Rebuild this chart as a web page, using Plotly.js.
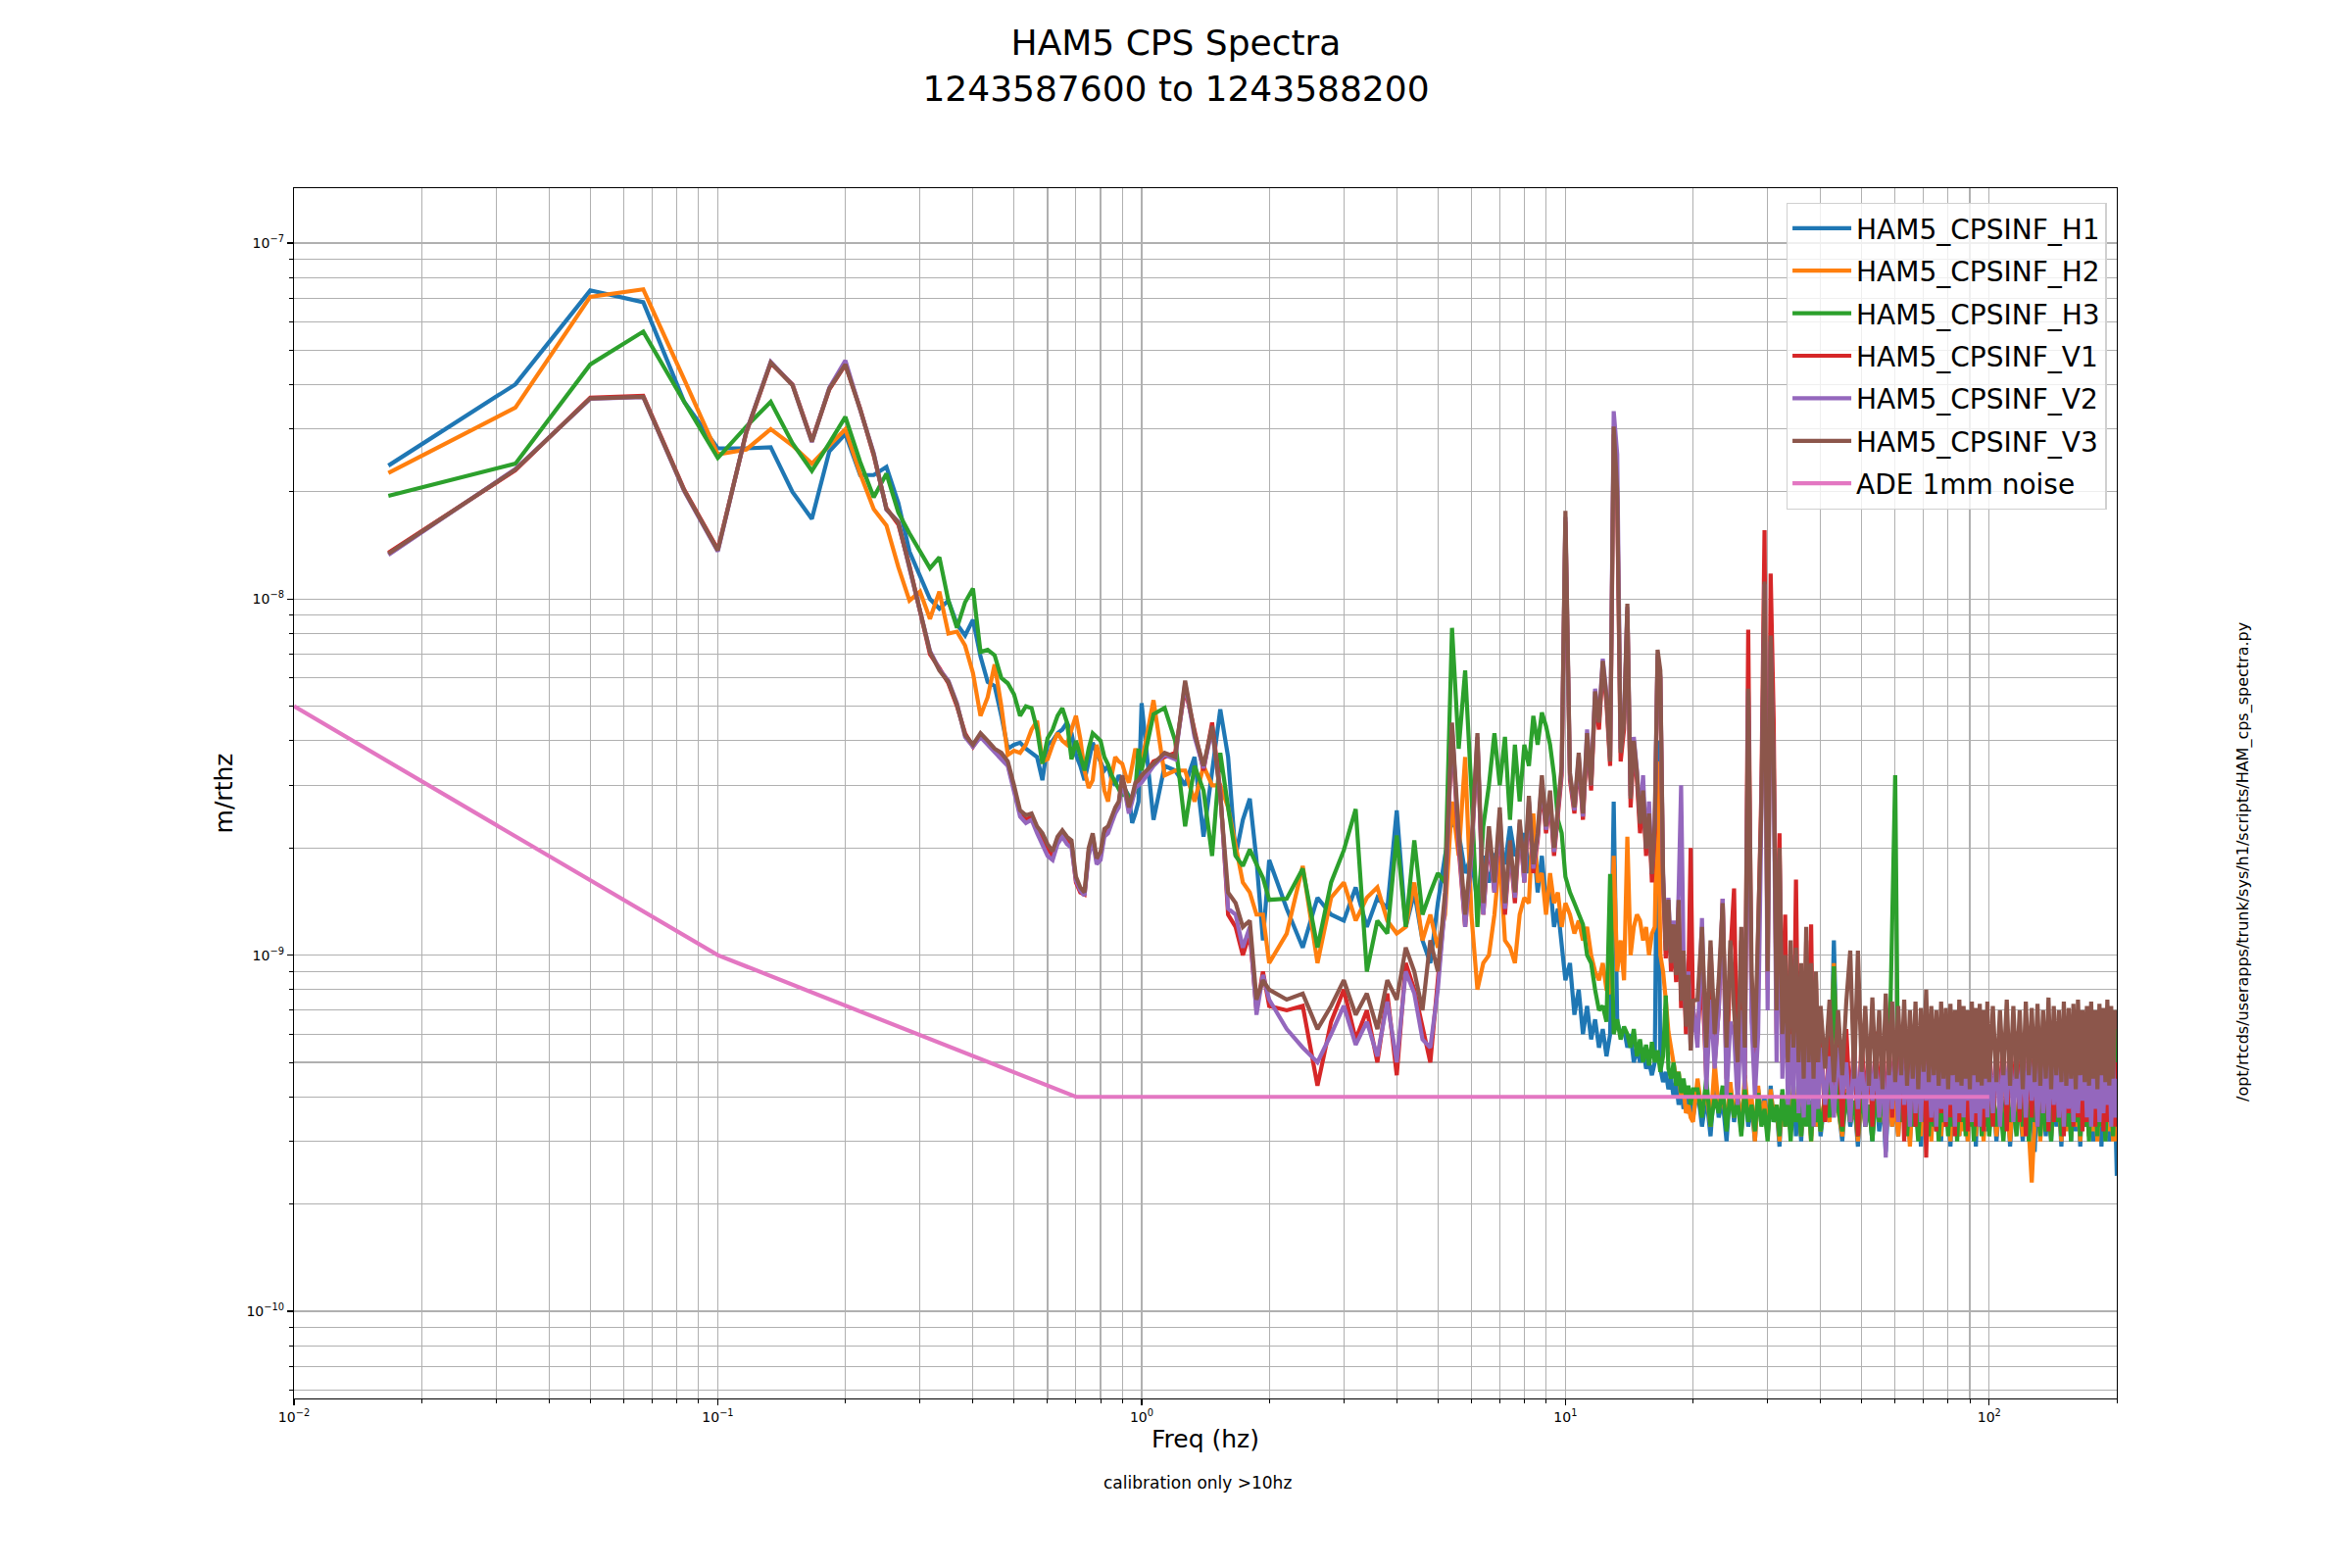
<!DOCTYPE html>
<html><head><meta charset="utf-8">
<script src="https://cdn.plot.ly/plotly-3.0.1.min.js"></script>
<style>html,body{margin:0;padding:0;background:#fff}</style>
</head><body><div id="chart" style="width:2400px;height:1600px"></div>
<script>
// Frequency grid (Hz)
const freq = [
0.0167,0.0333,0.05,0.0667,0.0833,0.1,0.1167,0.1333,0.15,0.1667,0.1833,0.2,0.2167,0.2333,0.25,0.2667,0.2833,0.3,0.3167,0.3333,0.35,0.3667,0.3833,0.4,
0.4167,0.4333,0.45,0.4667,0.4833,0.5,0.5167,0.5333,0.55,0.5667,0.5833,0.6,0.6167,0.6333,0.65,0.6667,0.6833,0.7,0.7167,0.7333,0.75,0.7667,0.7833,0.8,0.8167,0.8333,0.85,0.8667,0.8833,0.9,0.9167,0.9333,0.95,0.9667,0.9833,1.0,
1.0667,1.1333,1.2,1.2667,1.3333,1.4,1.4667,1.5333,1.6,1.6667,1.7333,1.8,1.8667,1.9333,2.0,
2.2,2.4,2.6,2.8,3,3.2,3.4,3.6,3.8,4,4.2,4.4,4.6,4.8,5,5.2,5.4,5.6,5.8,6,6.2,6.4,6.6,6.8,7,7.2,7.4,7.6,7.8,8,8.2,8.4,8.6,8.8,9,9.2,9.4,9.6,9.8,10,
10.25,10.5,10.75,11,11.25,11.5,11.75,12,12.25,12.5,12.75,13,13.25,13.5,13.75,14,14.25,14.5,14.75,15,15.25,15.5,15.75,16,16.25,16.5,16.75,17,17.25,17.5,17.75,18,18.25,18.5,18.75,19,19.25,19.5,19.75,20,
20.5,21,21.5,22,22.5,23,23.5,24,24.5,25,25.5,26,26.5,27,27.5,28,28.5,29,29.5,30,30.5,31,31.5,32,32.5,33,33.5,34,34.5,35,35.5,36,36.5,37,37.5,38,38.5,39,39.5,40,
41,42,43,44,45,46,47,48,49,50,51,52,53,54,55,56,57,58,59,60,61,62,63,64,65,66,67,68,69,70,71,72,73,74,75,76,77,78,79,80,81,82,83,84,85,86,87,88,89,90,91,92,93,94,95,96,97,98,99,100,
102,104,106,108,110,112,114,116,118,120,122,124,126,128,130,132,134,136,138,140,142,144,146,148,150,152,154,156,158,160,162,164,166,168,170,172,174,176,178,180,182,184,186,188,190,192,194,196,198,200
];

// Spectra values in nm/rtHz (converted to m/rtHz below)
const h1 = [
23.7,40.1,73.6,68.2,35.8,26.5,26.5,26.7,20.0,16.8,26.0,29.1,22.3,22.3,23.5,18.6,13.6,11.7,10.0,9.4,9.9,8.5,7.9,8.75,
6.9,5.85,5.7,4.7,3.8,3.9,3.95,3.8,3.7,3.6,3.1,3.9,4.0,4.2,4.3,4.5,4.2,3.65,3.4,3.1,3.5,3.95,3.7,3.5,3.3,3.4,3.1,3.0,3.2,3.1,2.9,2.8,2.35,2.5,2.7,5.1,
2.4,3.4,3.3,3.0,3.6,2.15,3.35,4.9,3.6,1.9,2.4,2.75,1.85,1.1,1.85,
1.35,1.05,1.45,1.3,1.25,1.55,1.2,1.45,1.35,2.55,1.2,1.5,1.1,0.95,1.4,1.9,2.4,2.2,1.7,1.9,1.4,1.9,1.6,1.9,2.0,1.8,2.3,1.9,2.0,2.2,1.7,2.1,1.5,1.9,1.4,1.6,1.2,1.35,1.05,0.85,
0.95,0.68,0.8,0.6,0.72,0.58,0.66,0.55,0.62,0.52,0.6,2.7,0.65,0.6,0.62,0.55,0.6,0.5,0.55,0.5,0.55,0.48,0.5,0.46,0.5,4.0,0.48,0.44,0.47,0.42,0.45,0.4,0.44,0.38,0.42,0.37,0.4,0.36,0.38,0.35,
0.42,0.33,0.4,0.31,0.45,0.35,0.39,0.3,0.43,0.34,0.41,0.32,0.44,0.33,0.38,0.3,0.42,0.35,0.4,0.31,0.43,0.34,0.37,0.29,0.41,0.33,0.4,0.32,0.44,0.31,0.38,0.3,0.42,0.35,0.39,0.31,0.43,0.33,0.4,0.31,
0.4,0.34,1.1,0.38,0.3,0.42,0.33,0.39,0.29,0.41,0.34,0.38,0.3,0.43,0.32,0.4,0.28,0.42,0.33,0.39,0.31,0.44,0.34,0.38,0.3,0.41,0.33,0.4,0.29,0.43,
0.35,0.39,0.31,0.42,0.32,0.4,0.3,0.44,0.33,0.38,0.29,0.41,0.34,0.4,0.31,0.43,0.33,0.39,0.3,0.42,0.34,0.4,0.29,0.41,0.33,0.38,0.31,0.43,0.32,0.4,
0.41,0.3,0.39,0.33,0.43,0.29,0.4,0.34,0.38,0.3,0.42,0.32,0.4,0.28,0.43,0.33,0.39,0.31,0.41,0.3,0.44,0.33,0.38,0.29,0.42,0.34,0.4,0.3,0.41,0.32,
0.39,0.29,0.43,0.33,0.4,0.31,0.42,0.3,0.38,0.32,0.41,0.29,0.4,0.33,0.43,0.3,0.39,0.31,0.4,0.24
];
const h2 = [
22.6,34.5,70.6,74.1,41.4,25.5,26.3,30.0,27.0,24.0,27.0,30.0,22.5,17.9,16.1,12.3,9.9,10.5,8.8,10.5,8.0,8.1,7.4,6.2,
4.7,5.3,6.55,5.0,3.65,3.75,3.7,3.9,4.3,4.55,3.5,3.55,3.9,4.2,4.0,3.9,4.3,4.7,4.05,3.3,2.95,3.1,3.9,3.5,2.9,2.7,3.2,3.6,3.5,3.45,3.2,3.05,3.4,3.8,3.6,3.45,
5.2,3.2,3.3,3.3,2.7,3.4,3.0,3.0,2.6,2.0,1.6,1.5,1.3,1.3,0.95,
1.15,1.78,0.95,1.45,1.6,1.25,1.45,1.55,1.25,1.15,1.2,1.6,1.1,1.3,1.05,1.3,2.7,1.9,3.6,1.3,0.8,0.95,1.0,1.3,1.9,1.1,1.05,0.95,1.3,1.45,1.4,2.5,1.6,1.7,1.3,1.7,1.4,1.5,1.2,1.4,
1.3,1.15,1.25,1.1,1.2,1.0,0.9,0.85,0.95,0.8,0.78,1.9,0.9,1.1,0.85,2.15,1.0,1.2,1.3,1.25,1.1,1.2,1.0,1.15,1.2,3.5,1.0,0.9,0.75,0.61,0.55,0.5,0.45,0.47,0.4,0.42,0.36,0.38,0.35,0.34,
0.45,0.36,0.42,0.33,0.5,0.37,0.4,0.34,0.44,0.35,0.41,0.32,0.46,0.36,0.4,0.3,0.43,0.34,0.39,0.31,0.42,0.35,0.38,0.3,0.41,0.33,0.39,0.32,0.43,0.34,0.4,0.31,0.42,0.35,0.38,0.3,0.41,0.33,0.4,0.32,
0.41,0.34,0.95,0.37,0.31,0.42,0.34,0.39,0.3,0.41,0.33,0.38,0.31,0.42,0.34,0.4,0.3,0.43,0.33,0.39,0.31,0.42,0.35,0.38,0.29,0.41,0.34,0.4,0.31,0.43,
0.33,0.39,0.3,0.42,0.34,0.4,0.31,0.41,0.33,0.38,0.3,0.42,0.34,0.4,0.31,0.43,0.32,0.39,0.3,0.41,0.34,0.4,0.31,0.42,0.33,0.38,0.3,0.41,0.34,0.4,
0.42,0.31,0.4,0.34,0.38,0.3,0.41,0.33,0.39,0.31,0.43,0.32,0.23,0.34,0.4,0.3,0.42,0.33,0.38,0.31,0.41,0.34,0.39,0.3,0.42,0.32,0.4,0.31,0.43,0.33,
0.38,0.3,0.41,0.34,0.4,0.31,0.42,0.32,0.39,0.3,0.41,0.33,0.4,0.31,0.42,0.32,0.39,0.3,0.41,0.3
];
const h3 = [
19.5,24.0,45.6,56.4,35.8,24.9,30.5,35.8,27.4,22.9,27.4,32.5,24.3,19.3,22.5,17.5,15.3,13.7,12.2,13.1,9.9,8.3,9.8,10.7,
7.1,7.2,6.95,6.0,5.8,5.4,4.7,5.0,4.94,4.3,3.45,4.07,4.3,4.7,4.94,4.5,3.55,4.0,3.6,3.3,3.8,4.2,4.1,4.0,3.6,3.43,3.2,3.05,2.9,2.8,2.9,2.75,2.75,2.9,3.8,3.3,
4.75,4.95,4.0,2.3,3.4,2.9,1.9,3.7,2.6,1.9,1.78,1.98,1.8,1.65,1.43,
1.44,1.75,1.05,1.6,1.97,2.57,0.9,1.25,1.15,2.17,1.2,2.1,1.3,1.5,1.7,1.6,8.3,3.8,6.3,2.9,1.2,2.3,3.0,4.2,3.0,4.1,2.4,3.9,2.7,3.9,3.4,4.7,3.9,4.8,4.4,3.9,3.2,2.4,2.2,1.66,
1.5,1.4,1.3,1.22,1.0,0.95,0.8,0.7,0.72,0.65,1.69,0.6,0.66,0.58,0.63,0.6,0.55,0.62,0.52,0.58,0.5,0.56,0.49,0.57,0.5,0.54,0.47,0.52,0.77,0.48,0.45,0.5,0.43,0.47,0.41,0.45,0.4,0.43,0.38,0.42,
0.42,0.35,0.45,0.33,0.4,0.36,0.43,0.32,0.41,0.35,0.39,0.31,0.42,0.34,0.38,0.32,0.41,0.33,0.37,0.3,0.4,0.34,0.38,0.31,0.42,0.33,0.39,0.3,0.41,0.34,0.38,0.31,0.4,0.33,0.39,0.3,0.41,0.34,0.38,0.32,
0.4,0.35,0.93,0.37,0.32,0.41,0.34,0.39,0.31,0.42,0.33,0.38,0.3,0.41,0.34,0.4,0.32,0.45,1.2,3.2,
0.4,0.34,0.39,0.31,0.42,0.33,0.38,0.3,0.41,0.34,0.39,0.31,0.42,0.33,0.4,0.3,0.41,0.34,0.38,0.31,
0.42,0.33,0.39,0.3,0.41,0.34,0.4,0.31,0.43,0.33,0.38,0.3,0.41,0.34,0.39,0.31,0.42,0.33,0.4,0.31,
0.41,0.33,0.39,0.3,0.42,0.34,0.38,0.31,0.41,0.33,0.4,0.3,0.42,0.34,0.39,0.31,0.41,0.32,0.38,0.3,0.42,0.34,0.4,0.31,0.41,0.33,0.39,0.3,0.42,0.34,
0.38,0.31,0.41,0.33,0.4,0.3,0.42,0.34,0.39,0.31,0.41,0.33,0.4,0.3,0.42,0.34,0.39,0.31,0.41,0.7
];
const v1 = [
13.5,23.0,36.8,37.2,20.3,13.8,29.3,46.0,40.1,27.9,38.8,45.5,34.3,25.3,18.0,16.2,12.4,9.1,7.0,6.4,5.8,5.0,4.2,3.85,
4.15,3.95,3.75,3.6,3.45,2.95,2.5,2.4,2.45,2.25,2.15,2.0,1.9,2.1,2.2,2.1,2.05,1.6,1.5,1.48,1.95,2.15,1.85,1.9,2.2,2.25,2.4,2.55,2.65,3.15,2.85,2.55,2.75,3.0,3.05,3.1,
3.5,3.6,3.7,5.6,4.3,3.3,4.5,2.9,1.3,1.2,1.0,1.15,0.7,0.9,0.72,
0.7,0.72,0.43,0.65,0.8,0.58,0.7,0.5,0.78,0.46,0.95,0.8,0.62,0.5,0.85,1.4,4.3,2.0,1.2,1.9,4.0,1.3,2.1,1.5,2.4,1.3,2.0,1.4,2.3,1.6,2.6,1.7,2.1,3.0,2.2,2.7,1.9,2.5,3.2,16.5,
3.1,2.5,3.5,2.4,4.0,2.9,5.3,4.3,6.5,5.1,3.4,29.0,19,3.5,4.3,9.3,2.6,3.8,3.1,2.2,2.8,1.9,2.4,1.6,2.2,6.9,6.0,1.6,0.98,1.36,0.9,1.15,0.84,1.36,0.71,0.98,0.6,0.84,2.0,0.7,
0.6,0.9,0.45,1.05,0.5,0.7,1.44,0.45,1.0,1.54,0.42,1.1,0.45,8.2,0.7,0.45,1.2,2.9,15.6,0.8,11.8,4.6,0.6,2.2,0.5,1.3,0.42,1.0,0.45,1.63,0.4,0.9,0.38,1.1,0.4,1.22,0.37,0.85,0.4,0.62,
0.34,0.6,0.36,0.58,0.33,0.62,0.37,0.57,0.31,0.6,0.35,0.58,0.33,0.61,0.36,0.56,0.32,0.6,0.35,0.58,0.34,0.61,0.3,0.57,0.36,0.6,0.33,0.58,0.35,0.62,
0.27,0.57,0.34,0.6,0.32,0.59,0.36,0.57,0.33,0.6,0.35,0.58,0.31,0.61,0.34,0.57,0.36,0.6,0.32,0.58,0.35,0.61,0.33,0.57,0.34,0.6,0.32,0.58,0.35,0.6,
0.33,0.58,0.35,0.6,0.32,0.57,0.36,0.61,0.34,0.58,0.31,0.6,0.35,0.57,0.33,0.61,0.36,0.58,0.32,0.6,0.34,0.57,0.35,0.61,0.31,0.58,0.36,0.6,0.33,0.57,
0.35,0.61,0.32,0.58,0.34,0.6,0.36,0.57,0.33,0.61,0.35,0.58,0.32,0.6,0.34,0.57,0.36,0.61,0.33,0.5
];
const v2 = [
13.3,23.2,36.5,36.9,20.1,13.6,29.5,46.4,40.0,27.6,39.2,46.8,34.0,25.7,17.8,16.5,12.2,9.3,7.15,6.35,5.9,5.1,4.1,3.85,
4.1,3.9,3.7,3.55,3.4,2.9,2.45,2.35,2.4,2.2,2.05,1.9,1.85,2.05,2.15,2.05,2.0,1.62,1.52,1.47,1.9,2.1,1.8,1.85,2.15,2.2,2.35,2.5,2.6,3.1,2.8,2.5,2.7,2.95,3.0,3.05,
3.4,3.65,3.55,5.8,4.1,3.35,4.3,2.85,1.35,1.3,1.05,1.2,0.68,0.88,0.75,
0.62,0.55,0.5,0.6,0.72,0.56,0.65,0.52,0.74,0.5,0.9,0.78,0.58,0.55,0.8,1.4,4.4,2.1,1.2,1.9,4.1,1.3,2.2,1.5,2.5,1.35,2.0,1.45,2.35,1.6,2.7,1.75,2.15,3.1,2.25,2.8,1.95,2.55,3.3,17.0,
3.2,2.55,3.6,2.45,4.3,3.0,5.6,4.6,6.8,5.4,3.6,33.7,25.5,3.8,4.6,9.5,2.8,4.1,3.3,2.4,3.2,2.0,2.7,1.7,2.4,7.0,6.1,1.7,1.1,1.45,1.0,1.25,0.9,1.5,3.0,1.0,0.65,0.9,0.55,0.72,
0.55,1.27,0.42,0.75,0.48,0.7,1.44,0.4,0.65,0.6,0.38,0.7,0.42,5.5,0.65,0.4,0.6,2.5,11.0,0.7,7.6,3.3,0.5,1.9,0.45,0.95,0.38,0.6,0.4,1.0,0.36,0.55,0.35,0.6,0.38,0.9,0.33,0.5,0.37,0.55,
0.38,0.52,0.35,0.55,0.4,0.5,0.34,0.54,0.37,0.52,0.33,0.55,0.39,0.5,0.35,0.53,0.27,0.55,0.37,0.51,0.34,0.54,0.38,0.5,0.33,0.55,0.36,0.52,0.34,0.54,
0.39,0.5,0.35,0.53,0.33,0.55,0.37,0.51,0.34,0.54,0.38,0.5,0.33,0.55,0.36,0.52,0.35,0.54,0.39,0.5,0.34,0.53,0.36,0.55,0.33,0.51,0.37,0.54,0.35,0.52,
0.36,0.54,0.33,0.52,0.38,0.55,0.34,0.5,0.37,0.53,0.35,0.55,0.39,0.51,0.33,0.54,0.36,0.52,0.34,0.55,0.38,0.5,0.35,0.53,0.33,0.54,0.37,0.52,0.34,0.55,
0.36,0.51,0.39,0.53,0.35,0.54,0.33,0.52,0.37,0.55,0.34,0.5,0.36,0.53,0.38,0.54,0.33,0.52,0.35,0.45
];
const v3 = [
13.4,23.1,36.6,37.0,20.2,13.7,29.4,46.2,39.9,27.7,39.0,45.6,34.1,25.5,17.9,16.4,12.3,9.2,7.1,6.3,5.85,5.05,4.15,3.9,
4.2,4.0,3.8,3.7,3.5,3.0,2.55,2.47,2.5,2.3,2.2,2.05,1.96,2.15,2.24,2.15,2.1,1.66,1.55,1.5,2.0,2.2,1.87,1.95,2.26,2.3,2.45,2.6,2.7,3.2,2.9,2.6,2.8,3.05,3.1,3.2,
3.45,3.7,3.6,5.9,4.2,3.4,4.4,2.8,1.5,1.4,1.2,1.25,0.75,0.85,0.8,
0.75,0.78,0.62,0.72,0.85,0.68,0.78,0.62,0.85,0.75,1.05,0.9,0.7,1.1,0.9,1.5,4.5,2.2,1.3,2.0,4.2,1.4,2.3,1.6,2.6,1.4,2.1,1.5,2.4,1.7,2.8,1.8,2.2,3.2,2.3,2.9,2.0,2.6,3.4,17.7,
3.25,2.6,3.7,2.5,4.2,3.0,5.5,4.5,6.7,5.3,3.5,30.5,20,3.7,4.5,9.7,2.75,4.0,3.25,2.34,2.9,1.99,2.5,1.69,2.34,7.2,6.3,1.69,1.03,1.43,0.95,1.22,0.88,1.43,0.745,1.03,0.63,0.88,0.54,0.745,
0.75,1.2,0.55,1.1,0.6,0.85,1.4,0.55,1.1,0.7,0.5,1.2,0.55,5.6,0.9,0.55,1.3,2.6,11.2,0.9,7.9,3.5,0.7,2.0,0.6,1.0,0.5,1.1,0.55,1.05,0.5,0.95,0.45,1.2,0.5,0.95,0.45,0.9,0.5,0.72,
0.48,0.75,0.44,0.7,0.46,0.74,1.03,0.45,1.03,0.47,0.72,0.43,0.76,0.45,0.7,0.42,0.78,0.46,0.74,0.44,0.72,0.46,0.75,0.43,0.7,0.45,0.74,0.42,0.71,0.47,
0.8,0.44,0.72,0.46,0.7,0.43,0.74,0.45,0.71,0.42,0.73,0.46,0.7,0.44,0.75,0.43,0.72,0.45,0.7,0.42,0.74,0.46,0.71,0.44,0.73,0.43,0.7,0.45,0.74,0.44,
0.72,0.44,0.7,0.46,0.75,0.43,0.72,0.45,0.7,0.42,0.74,0.46,0.71,0.44,0.73,0.43,0.7,0.45,0.76,0.42,0.72,0.46,0.7,0.44,0.74,0.43,0.71,0.45,0.73,0.42,
0.75,0.46,0.7,0.44,0.72,0.43,0.74,0.45,0.7,0.42,0.73,0.46,0.71,0.44,0.75,0.43,0.72,0.45,0.7,0.62
];
// ADE 1mm noise model
const adeFreq = [0.01, 0.1, 0.7, 100];
const adeVals = [5.0, 1.0, 0.4, 0.4];

const seriesNames = ['HAM5_CPSINF_H1','HAM5_CPSINF_H2','HAM5_CPSINF_H3','HAM5_CPSINF_V1','HAM5_CPSINF_V2','HAM5_CPSINF_V3','ADE 1mm noise'];
const seriesColors = ['#1f77b4','#ff7f0e','#2ca02c','#d62728','#9467bd','#8c564b','#e377c2'];

const xTickVals = [0.01, 0.1, 1, 10, 100];
const xTickText = ['10<sup>−2</sup>','10<sup>−1</sup>','10<sup>0</sup>','10<sup>1</sup>','10<sup>2</sup>'];
const xMinorVals = [0.02,0.03,0.04,0.05,0.06,0.07,0.08,0.09,0.2,0.3,0.4,0.5,0.6,0.7,0.8,0.9,2,3,4,5,6,7,8,9,20,30,40,50,60,70,80,90,200];
const yTickVals = [1e-10, 1e-9, 1e-8, 1e-7];
const yTickText = ['10<sup>−10</sup>','10<sup>−9</sup>','10<sup>−8</sup>','10<sup>−7</sup>'];
const yMinorVals = [6e-11,7e-11,8e-11,9e-11,2e-10,3e-10,4e-10,5e-10,6e-10,7e-10,8e-10,9e-10,2e-9,3e-9,4e-9,5e-9,6e-9,7e-9,8e-9,9e-9,2e-8,3e-8,4e-8,5e-8,6e-8,7e-8,8e-8,9e-8];

const NM = 1e-9;
const toSI = a => a.map(v => v * NM);
const spectra = [h1, h2, h3, v1, v2, v3];
spectra.forEach((s, i) => { if (s.length !== freq.length) console.error('length mismatch', seriesNames[i], s.length, freq.length); });

const LW = 4.2;
const traces = spectra.map((s, i) => {
  const n = Math.min(s.length, freq.length);
  return {
    x: freq.slice(0, n), y: toSI(s.slice(0, n)), type: 'scatter', mode: 'lines',
    name: seriesNames[i], legendgroup: 'g' + i,
    line: {color: seriesColors[i], width: LW}, hoverinfo: 'skip'
  };
});
traces.push({
  x: adeFreq, y: toSI(adeVals), type: 'scatter', mode: 'lines',
  name: seriesNames[6], legendgroup: 'g6',
  line: {color: seriesColors[6], width: LW}, hoverinfo: 'skip'
});

const gridCol = '#b0b0b0';
const axisCommon = {
  type: 'log', showline: true, mirror: true, linecolor: 'black', linewidth: 1.3,
  ticks: 'outside', ticklen: 6, tickwidth: 1.3, tickcolor: 'black',
  showgrid: true, gridcolor: gridCol, gridwidth: 1.3, zeroline: false,
  tickfont: {size: 14, family: 'DejaVu Sans', color: 'black'}, tickmode: 'array'
};

const layout = {
  width: 2400, height: 1600,
  paper_bgcolor: 'white', plot_bgcolor: 'white',
  margin: {l: 300, r: 240, t: 192, b: 173, pad: 0},
  font: {family: 'DejaVu Sans', color: 'black'},
  showlegend: true,
  title: {
    text: 'HAM5 CPS Spectra<br>1243587600 to 1243588200',
    font: {size: 36, family: 'DejaVu Sans', color: 'black'},
    x: 0.5, xref: 'container', xanchor: 'center',
    y: 0.965, yref: 'container', yanchor: 'top'
  },
  xaxis: Object.assign({}, axisCommon, {
    range: [-2, Math.log10(200)],
    tickvals: xTickVals, ticktext: xTickText,
    minor: {tickmode: 'array', tickvals: xMinorVals, ticks: 'outside', ticklen: 3.5, tickwidth: 1, tickcolor: 'black', showgrid: true, gridcolor: gridCol, gridwidth: 1.1},
    title: {text: 'Freq (hz)', font: {size: 25, family: 'DejaVu Sans', color: 'black'}, standoff: 6}
  }),
  yaxis: Object.assign({}, axisCommon, {
    range: [-10.245, -6.846],
    tickvals: yTickVals, ticktext: yTickText,
    minor: {tickmode: 'array', tickvals: yMinorVals, ticks: 'outside', ticklen: 3.5, tickwidth: 1, tickcolor: 'black', showgrid: true, gridcolor: gridCol, gridwidth: 1.1},
    title: {text: 'm/rthz', font: {size: 25, family: 'DejaVu Sans', color: 'black'}, standoff: 6}
  }),
  legend: {
    x: 0.9945, xanchor: 'right', y: 0.988, yanchor: 'top',
    font: {size: 28, family: 'DejaVu Sans', color: 'black'},
    bgcolor: 'rgba(255,255,255,0.8)', bordercolor: '#d0d0d0', borderwidth: 1.3,
    traceorder: 'grouped', tracegroupgap: 4, itemwidth: 60
  },
  annotations: [
    {text: '/opt/rtcds/userapps/trunk/sys/h1/scripts/HAM_cps_spectra.py', xref: 'paper', yref: 'paper',
     x: 1.0694, y: 0.443, xanchor: 'center', yanchor: 'middle', textangle: -90, showarrow: false,
     font: {size: 16, family: 'DejaVu Sans', color: 'black'}},
    {text: 'calibration only &gt;10hz', xref: 'paper', yref: 'paper',
     x: 0.4956, y: -0.0695, xanchor: 'center', yanchor: 'middle', showarrow: false,
     font: {size: 17, family: 'DejaVu Sans', color: 'black'}}
  ]
};

Plotly.newPlot('chart', traces, layout, {displayModeBar: false, staticPlot: true});
</script>
</body></html>
